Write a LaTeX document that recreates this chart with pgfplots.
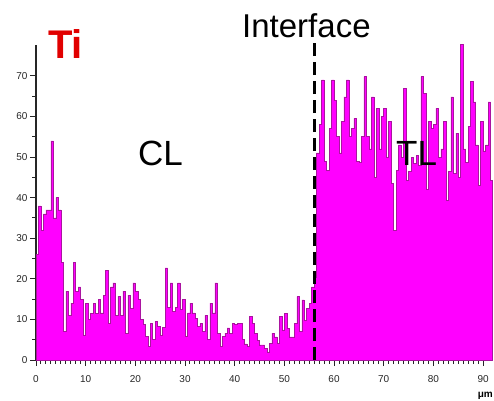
\documentclass[border=0pt]{standalone}
\usepackage{pgfplots}
\pgfplotsset{compat=1.18}
\usepackage{fontspec}
\setmainfont{Liberation Sans}
\definecolor{barfill}{RGB}{255,0,255}
\definecolor{baredge}{RGB}{170,20,160}
\definecolor{tired}{RGB}{225,0,0}
\begin{document}
\begin{tikzpicture}
\useasboundingbox (0,0) rectangle (494pt,-400pt);
\begin{axis}[
  at={(36pt,-360pt)}, anchor=south west,
  scale only axis, width=456pt, height=315pt,
  xmin=0, xmax=91.8, ymin=0, ymax=77.6,
  axis x line*=bottom, axis y line*=left,
  axis line style={line width=1.1pt, black!85},
  xtick={0,10,...,90}, minor x tick num=9,
  ytick={0,10,...,70}, minor y tick num=1,
  tick align=outside,
  major tick length=6pt, minor tick length=4pt,
  every tick/.style={line width=1pt, black!85},
  ticklabel style={font=\fontsize{10}{12}\selectfont, black!85},
  xticklabel style={yshift=-6pt},
  yticklabel style={xshift=1pt},
  /pgf/number format/assume math mode=true,
  clip=false,
]
\addplot[const plot mark left, fill=barfill, draw=baredge, line width=0.5pt] coordinates {
(0,26) (0.5,38) (1.0,32) (1.5,36) (2.0,37) (2.5,37) (3.0,54) (3.5,35) (4.0,40) (4.5,37)
(5.0,24) (5.5,7) (6.0,17) (6.5,11) (7.0,14) (7.5,24) (8.0,17) (8.5,18) (9.0,15) (9.5,6)
(10.0,14) (10.5,10) (11.0,11.5) (11.5,14) (12.0,11.5) (12.5,15) (13.0,11.6) (13.5,16) (14.0,22) (14.5,9)
(15.0,18) (15.5,19) (16.0,11) (16.5,15.7) (17.0,11) (17.5,17) (18.0,6.6) (18.5,16) (19.0,12.8) (19.5,19)
(20.0,17) (20.5,15) (21.0,10) (21.5,8.7) (22.0,5.8) (22.5,3.3) (23.0,9) (23.5,5) (24.0,9.5) (24.5,8.3)
(25.0,6) (25.5,8) (26.0,22.7) (26.5,13) (27.0,19) (27.5,12) (28.0,13) (28.5,19) (29.0,12.4) (29.5,15)
(30.0,5.8) (30.5,11.6) (31.0,14) (31.5,11.6) (32.0,10.3) (32.5,8.3) (33.0,9) (33.5,7) (34.0,11) (34.5,5)
(35.0,14) (35.5,11.6) (36.0,19) (36.5,6.6) (37.0,3.3) (37.5,5.8) (38.0,6.6) (38.5,7.9) (39.0,6.6) (39.5,9)
(40.0,8.7) (40.5,9) (41.0,9) (41.5,5) (42.0,4) (42.5,3.3) (43.0,10.7) (43.5,9) (44.0,6.6) (44.5,4.9)
(45.0,3.7) (45.5,3.7) (46.0,2.9) (46.5,2.0) (47.0,4.1) (47.5,6.6) (48.0,5.7) (48.5,4.1) (49.0,10.7) (49.5,7.4)
(50.0,11.5) (50.5,7.8) (51.0,5.7) (51.5,5.7) (52.0,9) (52.5,15.6) (53.0,7) (53.5,14.8) (54.0,9.8) (54.5,12.7)
(55.0,14) (55.5,18) (56.0,20.5) (56.5,51) (57.0,58) (57.5,69) (58.0,49) (58.5,46.8) (59.0,57) (59.5,69)
(60.0,64) (60.5,55) (61.0,51) (61.5,58.7) (62.0,64.8) (62.5,69) (63.0,55) (63.5,57) (64.0,59.5) (64.5,49)
(65.0,48.6) (65.5,55) (66.0,69.8) (66.5,55) (67.0,52) (67.5,64.8) (68.0,45) (68.5,62) (69.0,52) (69.5,60)
(70.0,62) (70.5,50) (71.0,58.7) (71.5,43.6) (72.0,32) (72.5,46.8) (73.0,53) (73.5,50) (74.0,67) (74.5,44.3)
(75.0,46.4) (75.5,50) (76.0,48.5) (76.5,50.5) (77.0,48) (77.5,69.8) (78.0,65.7) (78.5,42) (79.0,58.7) (79.5,57)
(80.0,58) (80.5,62) (81.0,50) (81.5,52) (82.0,58.7) (82.5,39.4) (83.0,46.4) (83.5,64.8) (84.0,46) (84.5,55.9)
(85.0,45) (85.5,77.8) (86.0,52) (86.5,48.6) (87.0,57.5) (87.5,68.6) (88.0,63.6) (88.5,53) (89.0,43) (89.5,58.7)
(90.0,51.5) (90.5,53) (91.0,63.6) (91.5,44.3) (91.8,44.3)
} \closedcycle;
\addplot[black, line width=2.6pt, dash pattern=on 13pt off 6pt] coordinates {(56.1,0) (56.1,78.8)};
\end{axis}
\node[anchor=base west, inner sep=0pt, text=tired] at (48pt,-58pt) {\fontsize{40}{40}\selectfont\bfseries Ti};
\node[anchor=base west, inner sep=0pt] at (242pt,-37pt) {\fontsize{33}{33}\selectfont Interface};
\node[anchor=base west, inner sep=0pt] at (138pt,-165pt) {\fontsize{35}{35}\selectfont CL};
\node[anchor=base west, inner sep=0pt] at (396pt,-165pt) {\fontsize{35}{35}\selectfont TL};
\node[anchor=base east, inner sep=0pt] at (493pt,-397pt) {\fontsize{10}{10}\selectfont\bfseries μm};
\end{tikzpicture}
\end{document}
